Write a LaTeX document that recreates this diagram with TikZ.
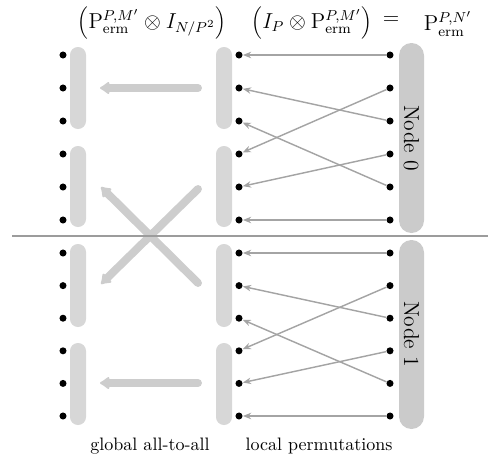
\documentclass[tikz,border=0pt]{standalone}
\usetikzlibrary{arrows.meta}
\definecolor{barlight}{HTML}{D7D7D7}
\definecolor{bardark}{HTML}{CBCBCB}
\definecolor{thickgray}{HTML}{CDCDCD}
\definecolor{thingray}{HTML}{A4A4A4}
\definecolor{sepgray}{HTML}{9C9C9C}
\begin{document}
\begin{tikzpicture}[x=0.555pt,y=-0.555pt,
  dotnode/.style={circle,fill=black,inner sep=0pt,minimum size=3.9pt},
  lightbar/.style={fill=barlight,rounded corners=4.4pt},
  darkbar/.style={fill=bardark,rounded corners=6.9pt},
  thinarrow/.style={draw=thingray,line width=0.8pt,-{Stealth[length=4.6pt,width=3.6pt]}},
  thickarrow/.style={draw=thickgray,line width=4.4pt,line cap=round,-{Latex[length=6pt,width=8.5pt,round]}},
  seprule/.style={draw=sepgray,line width=1pt},
  headtext/.style={inner sep=0pt,font=\large}]
\useasboundingbox (0,0) rectangle (488,459);
% bars
\foreach \ya/\yb in {47/129,146/227,244/327,343/425}{
  \fill[lightbar] (70,\ya) rectangle (86,\yb);
  \fill[lightbar] (216,\ya) rectangle (232,\yb);
}
\fill[darkbar] (399,43) rectangle (424,233);
\fill[darkbar] (399,240) rectangle (424,429);
% node labels
\node[rotate=-90,font=\large] (node0) at (411.5,138) {Node 0};
\node[rotate=-90,font=\large] (node1) at (411.5,334) {Node 1};
% dots
\foreach \g/\base/\dy in {0/55/33,1/253/32.6}{
  \foreach \k in {1,...,6}{
    \pgfmathsetmacro\yy{\base+(\k-1)*\dy}
    \node[dotnode] (L\g\k) at (63,\yy) {};
    \node[dotnode] (M\g\k) at (239,\yy) {};
    \node[dotnode] (R\g\k) at (390,\yy) {};
  }
}
% local permutations
\foreach \g in {0,1}{
  \foreach \a/\b in {1/1,2/4,3/2,4/5,5/3,6/6}{
    \draw[thinarrow] (R\g\a) -- (M\g\b);
  }
}
% global all-to-all
\coordinate (t1s) at (198,88);  \coordinate (t1e) at (100,88);
\coordinate (c1s) at (198,283); \coordinate (c1e) at (101,187);
\coordinate (c2s) at (198,189); \coordinate (c2e) at (101,284);
\coordinate (b1s) at (198,383); \coordinate (b1e) at (100,383);
\draw[thickarrow] (t1s) -- (t1e);
\draw[thickarrow] (c1s) -- (c1e);
\draw[thickarrow] (c2s) -- (c2e);
\draw[thickarrow] (b1s) -- (b1e);
% separator
\coordinate (sepl) at (12,236);
\coordinate (sepr) at (488,236);
\draw[seprule] (sepl) -- (sepr);
% header
\node[headtext] (f1) at (152,23) {$\left(\mathrm{P}^{P,M'}_{\mathrm{erm}}\otimes I_{N/P^2}\right)$};
\node[headtext] (f2) at (312,23) {$\left(I_P\otimes \mathrm{P}^{P,M'}_{\mathrm{erm}}\right)$};
\node[headtext] (eq) at (391,21) {$=$};
\node[headtext] (f3) at (448,24) {$\mathrm{P}^{P,N'}_{\mathrm{erm}}$};
% footer
\node (lab1) at (150,446) {global all-to-all};
\node (lab2) at (319,446) {local permutations};
\end{tikzpicture}
\end{document}
